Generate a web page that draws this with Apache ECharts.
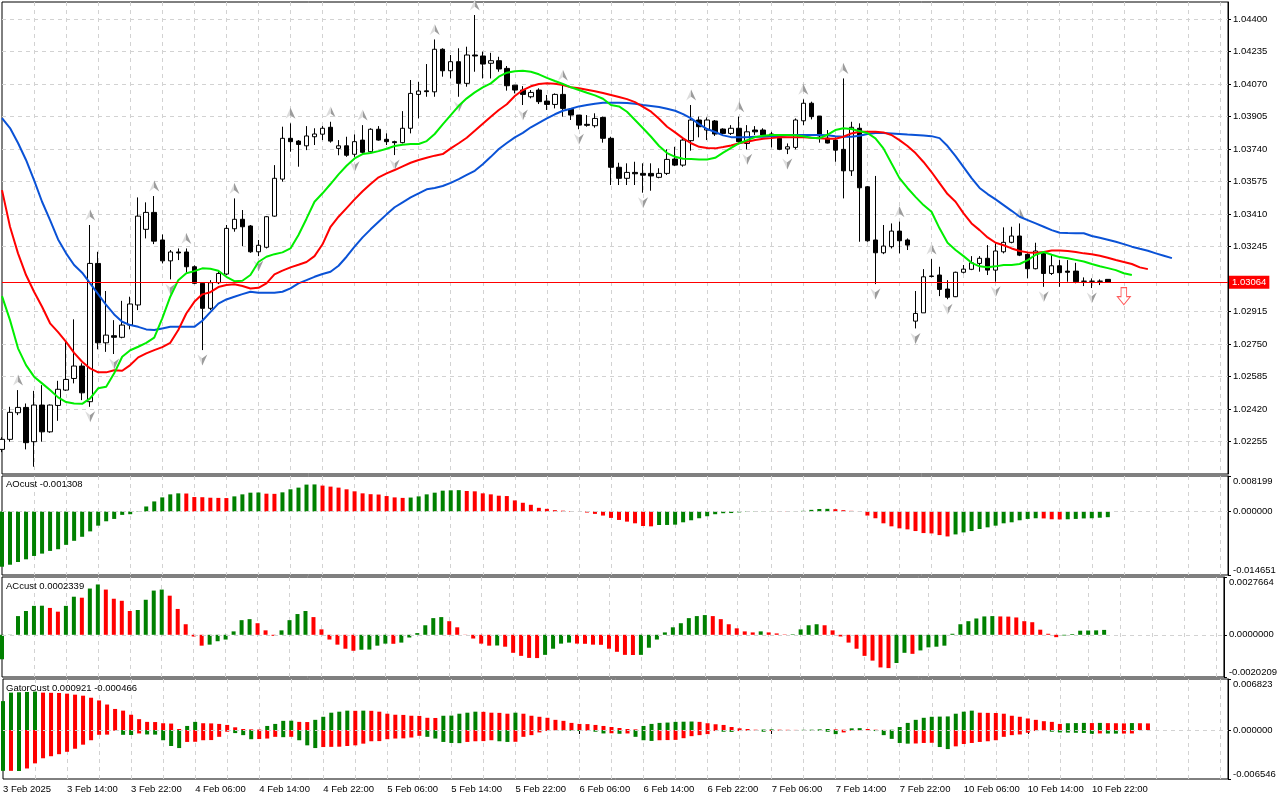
<!DOCTYPE html>
<html lang="en">
<head>
<meta charset="UTF-8">
<title>EURUSD H1 - Alligator / AO / AC / Gator</title>
<script src="https://cdn.jsdelivr.net/npm/echarts@6.0.0/dist/echarts.min.js"></script>
<style>
    html, body { margin: 0; padding: 0; background: #fff; }
    #main { width: 1280px; height: 800px; }
</style>
</head>
<body>
<div id="main"></div>
<script type="text/javascript">
// H1 bars from 3 Feb 06:00 to 11 Feb 00:00 (weekend skipped)
var openPx = [1.02215,1.02266,1.02401,1.02428,1.02254,1.02440,1.02304,1.02438,1.02516,1.02575,
1.02638,1.02457,1.03159,1.02756,1.02792,1.02784,1.02846,1.02948,1.03332,1.03418,
1.03278,1.03172,1.03217,1.03217,1.03142,1.03058,1.02931,1.03061,1.03105,1.03335,
1.03383,1.03349,1.03218,1.03241,1.03399,1.03587,1.03794,1.03780,1.03756,1.03802,
1.03815,1.03850,1.03743,1.03756,1.03713,1.03785,1.03726,1.03840,1.03789,1.03777,
1.03772,1.03845,1.04017,1.04035,1.04030,1.04246,1.04137,1.04183,1.04073,1.04217,
1.04212,1.04175,1.04188,1.04149,1.04064,1.04039,1.04005,1.04039,1.03983,1.03966,
1.04017,1.03941,1.03912,1.03865,1.03858,1.03900,1.03794,1.03647,1.03591,1.03621,
1.03616,1.03616,1.03596,1.03616,1.03689,1.03658,1.03782,1.03887,1.03836,1.03882,
1.03841,1.03819,1.03845,1.03768,1.03836,1.03836,1.03816,1.03794,1.03740,1.03748,
1.03883,1.03972,1.03907,1.03795,1.03785,1.03738,1.03629,1.03845,1.03548,1.03278,
1.03213,1.03244,1.03323,1.03278,1.02866,1.02908,1.03095,1.03100,1.03029,1.02990,
1.03114,1.03129,1.03159,1.03185,1.03125,1.03218,1.03266,1.03298,1.03205,1.03132,
1.03210,1.03108,1.03147,1.03120,1.03120,1.03069,1.03068,1.03069,1.03078];
var highPx = [1.02277,1.02431,1.02516,1.02448,1.02512,1.02541,1.02443,1.02563,1.02761,1.02875,
1.02652,1.03354,1.03218,1.03019,1.02871,1.02969,1.02990,1.03494,1.03469,1.03501,
1.03306,1.03227,1.03235,1.03235,1.03149,1.03059,1.03074,1.03125,1.03354,1.03489,
1.03430,1.03354,1.03278,1.03399,1.03658,1.03853,1.03870,1.03785,1.03856,1.03845,
1.03856,1.03878,1.03785,1.03802,1.03814,1.03861,1.03845,1.03856,1.03819,1.03782,
1.03932,1.04090,1.04081,1.04171,1.04296,1.04251,1.04217,1.04251,1.04259,1.04420,
1.04234,1.04228,1.04208,1.04161,1.04064,1.04059,1.04039,1.04048,1.04014,1.04022,
1.04064,1.03946,1.03912,1.03912,1.03921,1.03904,1.03802,1.03670,1.03667,1.03675,
1.03667,1.03667,1.03642,1.03738,1.03751,1.03795,1.03963,1.03904,1.03900,1.03887,
1.03845,1.03861,1.03904,1.03861,1.03856,1.03845,1.03827,1.03799,1.03768,1.03895,
1.03992,1.03980,1.03907,1.03836,1.03799,1.04098,1.03878,1.03870,1.03552,1.03603,
1.03354,1.03362,1.03371,1.03286,1.03019,1.03130,1.03181,1.03142,1.03074,1.03117,
1.03151,1.03196,1.03196,1.03252,1.03261,1.03342,1.03345,1.03362,1.03210,1.03264,
1.03218,1.03201,1.03176,1.03176,1.03162,1.03088,1.03083,1.03078,1.03078];
var lowPx = [1.02201,1.02254,1.02389,1.02215,1.02127,1.02254,1.02299,1.02360,1.02512,1.02550,
1.02465,1.02431,1.02723,1.02710,1.02699,1.02779,1.02824,1.02922,1.03286,1.03257,
1.03159,1.03078,1.03176,1.03112,1.03054,1.02719,1.02922,1.03054,1.03100,1.03320,
1.03247,1.03213,1.03196,1.03235,1.03396,1.03574,1.03726,1.03650,1.03734,1.03760,
1.03785,1.03772,1.03708,1.03700,1.03700,1.03714,1.03721,1.03782,1.03760,1.03709,
1.03768,1.03819,1.03895,1.04005,1.04005,1.04107,1.04098,1.04005,1.04056,1.04132,
1.04098,1.04098,1.04132,1.04036,1.04022,1.03963,1.03997,1.03968,1.03938,1.03946,
1.03904,1.03887,1.03840,1.03853,1.03848,1.03772,1.03557,1.03557,1.03557,1.03557,
1.03518,1.03528,1.03591,1.03608,1.03653,1.03650,1.03731,1.03799,1.03785,1.03806,
1.03816,1.03811,1.03772,1.03738,1.03811,1.03802,1.03748,1.03734,1.03714,1.03738,
1.03861,1.03890,1.03772,1.03768,1.03675,1.03489,1.03603,1.03269,1.03269,1.03054,
1.03206,1.03235,1.03210,1.03227,1.02829,1.02908,1.03088,1.02993,1.02977,1.02988,
1.03108,1.03125,1.03117,1.03100,1.03066,1.03210,1.03261,1.03196,1.03083,1.03129,
1.03040,1.03100,1.03040,1.03066,1.03058,1.03044,1.03034,1.03049,1.03063];
var closePx = [1.02266,1.02403,1.02428,1.02249,1.02440,1.02304,1.02440,1.02520,1.02570,1.02638,
1.02502,1.03159,1.02756,1.02795,1.02784,1.02846,1.02953,1.03399,1.03418,1.03272,
1.03172,1.03217,1.03212,1.03142,1.03058,1.02931,1.03061,1.03108,1.03337,1.03383,
1.03345,1.03218,1.03251,1.03396,1.03591,1.03794,1.03777,1.03763,1.03806,1.03816,
1.03845,1.03780,1.03756,1.03708,1.03777,1.03723,1.03840,1.03785,1.03777,1.03772,
1.03845,1.04022,1.04034,1.04031,1.04246,1.04137,1.04183,1.04073,1.04217,1.04212,
1.04171,1.04188,1.04146,1.04061,1.04039,1.04017,1.04027,1.03980,1.03966,1.04017,
1.03946,1.03912,1.03861,1.03860,1.03895,1.03794,1.03647,1.03591,1.03621,1.03614,
1.03607,1.03603,1.03616,1.03687,1.03658,1.03785,1.03887,1.03853,1.03887,1.03816,
1.03819,1.03845,1.03777,1.03827,1.03827,1.03811,1.03811,1.03738,1.03751,1.03887,
1.03972,1.03904,1.03806,1.03770,1.03734,1.03629,1.03850,1.03543,1.03274,1.03213,
1.03247,1.03323,1.03274,1.03252,1.02905,1.03091,1.03093,1.03027,1.02987,1.03114,
1.03130,1.03162,1.03185,1.03125,1.03222,1.03266,1.03298,1.03201,1.03132,1.03222,
1.03108,1.03147,1.03112,1.03114,1.03066,1.03068,1.03069,1.03068,1.03064];

// alligator lines as drawn on the chart (jaw +8, teeth +5, lips +3 bars ahead)
var jaw = [1.03897,1.03846,1.03770,1.03684,1.03582,1.03472,1.03379,1.03281,1.03210,1.03151,
1.03112,1.03058,1.03003,1.02948,1.02900,1.02863,1.02846,1.02837,1.02824,1.02821,
1.02829,1.02837,1.02837,1.02837,1.02837,1.02868,1.02912,1.02955,1.02976,1.02990,
1.03003,1.03015,1.03010,1.03010,1.03010,1.03015,1.03032,1.03058,1.03074,1.03091,
1.03105,1.03117,1.03147,1.03193,1.03244,1.03291,1.03332,1.03370,1.03408,1.03444,
1.03469,1.03494,1.03515,1.03535,1.03542,1.03552,1.03568,1.03587,1.03608,1.03629,
1.03662,1.03700,1.03740,1.03770,1.03799,1.03822,1.03850,1.03873,1.03895,1.03916,
1.03934,1.03944,1.03956,1.03963,1.03970,1.03975,1.03975,1.03975,1.03973,1.03970,
1.03963,1.03958,1.03953,1.03944,1.03934,1.03917,1.03895,1.03866,1.03841,1.03826,
1.03809,1.03800,1.03799,1.03800,1.03802,1.03802,1.03804,1.03805,1.03809,1.03811,
1.03811,1.03811,1.03811,1.03809,1.03805,1.03802,1.03802,1.03807,1.03816,1.03821,
1.03821,1.03819,1.03816,1.03813,1.03811,1.03808,1.03805,1.03795,1.03755,1.03704,
1.03648,1.03592,1.03542,1.03511,1.03484,1.03455,1.03426,1.03396,1.03379,1.03362,
1.03345,1.03328,1.03315,1.03313,1.03312,1.03312,1.03298,1.03289,1.03279,1.03269,
1.03257,1.03244,1.03233,1.03223,1.03210,1.03198,1.03186];
var teeth = [1.03531,1.03345,1.03210,1.03100,1.03015,1.02939,1.02855,1.02810,1.02761,1.02705,
1.02660,1.02626,1.02606,1.02606,1.02617,1.02614,1.02643,1.02682,1.02702,1.02719,
1.02734,1.02756,1.02821,1.02905,1.02964,1.03002,1.03013,1.03039,1.03049,1.03053,
1.03044,1.03032,1.03035,1.03058,1.03103,1.03122,1.03139,1.03152,1.03166,1.03196,
1.03256,1.03345,1.03396,1.03440,1.03484,1.03525,1.03562,1.03596,1.03616,1.03633,
1.03652,1.03670,1.03684,1.03695,1.03706,1.03714,1.03743,1.03769,1.03797,1.03832,
1.03868,1.03904,1.03938,1.03967,1.04009,1.04039,1.04058,1.04070,1.04073,1.04071,
1.04065,1.04053,1.04048,1.04041,1.04033,1.04024,1.04014,1.04004,1.03993,1.03978,
1.03954,1.03929,1.03893,1.03853,1.03824,1.03794,1.03769,1.03751,1.03745,1.03743,
1.03750,1.03758,1.03769,1.03777,1.03785,1.03792,1.03795,1.03799,1.03799,1.03799,
1.03799,1.03797,1.03794,1.03792,1.03792,1.03802,1.03819,1.03827,1.03827,1.03827,
1.03824,1.03811,1.03785,1.03755,1.03719,1.03674,1.03623,1.03567,1.03511,1.03472,
1.03413,1.03362,1.03328,1.03291,1.03264,1.03251,1.03235,1.03222,1.03215,1.03213,
1.03217,1.03225,1.03225,1.03222,1.03217,1.03210,1.03205,1.03198,1.03188,1.03176,
1.03166,1.03156,1.03139,1.03130];
var lips = [1.02993,1.02871,1.02728,1.02643,1.02584,1.02550,1.02516,1.02479,1.02455,1.02448,
1.02446,1.02474,1.02525,1.02533,1.02601,1.02685,1.02718,1.02736,1.02756,1.02782,
1.02880,1.02990,1.03074,1.03109,1.03120,1.03134,1.03132,1.03122,1.03091,1.03069,
1.03071,1.03100,1.03166,1.03193,1.03206,1.03215,1.03235,1.03303,1.03386,1.03472,
1.03515,1.03562,1.03611,1.03655,1.03692,1.03714,1.03719,1.03729,1.03741,1.03755,
1.03761,1.03765,1.03765,1.03780,1.03816,1.03865,1.03912,1.03959,1.03997,1.04027,
1.04053,1.04073,1.04107,1.04127,1.04134,1.04137,1.04132,1.04119,1.04101,1.04085,
1.04070,1.04053,1.04039,1.04025,1.04012,1.03995,1.03963,1.03956,1.03929,1.03887,
1.03845,1.03802,1.03755,1.03719,1.03700,1.03690,1.03689,1.03687,1.03687,1.03695,
1.03721,1.03746,1.03769,1.03785,1.03800,1.03807,1.03811,1.03811,1.03811,1.03809,
1.03804,1.03797,1.03794,1.03812,1.03836,1.03845,1.03841,1.03831,1.03821,1.03794,
1.03743,1.03667,1.03592,1.03542,1.03497,1.03455,1.03421,1.03337,1.03264,1.03227,
1.03196,1.03162,1.03144,1.03139,1.03144,1.03151,1.03151,1.03156,1.03176,1.03203,
1.03217,1.03203,1.03191,1.03185,1.03177,1.03169,1.03156,1.03145,1.03135,1.03125,
1.03109,1.03100];

// bars carrying a fractal
var fractalUp = [2, 11, 19, 23, 29, 36, 41, 45, 54, 59, 70, 86, 92, 100, 105, 112, 116, 127];
var fractalDown = [11, 14, 21, 25, 32, 44, 49, 57, 65, 72, 80, 93, 98, 109, 114, 118, 124, 130, 136];
// sell arrow drawn ahead of the last bar
var signalBar = [140];
var signalPrice = [1.02993];

var ao = [-0.012743,-0.012277,-0.011655,-0.011033,-0.010256,-0.009713,-0.009091,-0.008702,-0.007692,-0.006760,
-0.005828,-0.004584,-0.003263,-0.002253,-0.001709,-0.000777,-0.000622,0.000080,0.001166,0.002331,
0.003263,0.003963,0.004196,0.004157,0.003341,0.003302,0.003186,0.003147,0.003108,0.003497,
0.003963,0.004351,0.004390,0.004118,0.004080,0.004429,0.005128,0.005517,0.006216,0.006255,
0.005983,0.005750,0.005517,0.005128,0.004662,0.004196,0.004002,0.003924,0.003574,0.003263,
0.003147,0.003225,0.003497,0.003963,0.004351,0.004817,0.004895,0.004934,0.004740,0.004662,
0.004196,0.003963,0.003652,0.003574,0.002564,0.002020,0.001554,0.000855,0.000622,0.000311,
0.000194,0.000117,0.000010,-0.000233,-0.000544,-0.000932,-0.001476,-0.001943,-0.002331,-0.002720,
-0.003341,-0.003419,-0.003108,-0.003100,-0.003030,-0.002486,-0.002020,-0.001554,-0.001088,-0.000622,
-0.000389,-0.000350,-0.000194,-0.000117,-0.000078,-0.000054,-0.000039,-0.000054,-0.000070,-0.000039,
0.000155,0.000389,0.000583,0.000622,0.000544,0.000311,0.000155,-0.000039,-0.000932,-0.001554,
-0.002720,-0.003419,-0.003885,-0.004118,-0.004507,-0.004973,-0.005051,-0.005439,-0.005750,-0.005284,
-0.004817,-0.004507,-0.004040,-0.003652,-0.003263,-0.002720,-0.002486,-0.002020,-0.001709,-0.001554,
-0.001593,-0.001787,-0.001826,-0.001787,-0.001709,-0.001593,-0.001554,-0.001437,-0.001308];

var ac = [-0.001172,0.000008,0.000895,0.001140,0.001384,0.001392,0.001286,0.001107,0.001384,0.001823,
0.001775,0.002214,0.002409,0.002165,0.001726,0.001628,0.001140,0.001188,0.001677,0.002116,
0.002165,0.001872,0.001237,0.000505,-0.000081,-0.000521,-0.000472,-0.000309,-0.000228,0.000163,
0.000700,0.000749,0.000554,0.000212,-0.000049,0.000212,0.000700,0.000993,0.001140,0.000847,
0.000260,-0.000228,-0.000472,-0.000667,-0.000765,-0.000716,-0.000708,-0.000521,-0.000423,-0.000431,
-0.000374,-0.000130,0.000081,0.000456,0.000798,0.000847,0.000651,0.000358,-0.000008,-0.000179,
-0.000423,-0.000521,-0.000513,-0.000570,-0.000863,-0.001009,-0.001107,-0.001115,-0.000961,-0.000667,
-0.000423,-0.000374,-0.000423,-0.000431,-0.000472,-0.000480,-0.000667,-0.000814,-0.000961,-0.000969,
-0.000961,-0.000619,-0.000228,0.000114,0.000358,0.000554,0.000798,0.000895,0.000944,0.000895,
0.000749,0.000505,0.000309,0.000163,0.000114,0.000163,0.000114,0.000065,0.000016,0.000024,
0.000260,0.000456,0.000505,0.000456,0.000212,-0.000081,-0.000374,-0.000667,-0.001009,-0.001237,
-0.001563,-0.001595,-0.001351,-0.000863,-0.000912,-0.000749,-0.000602,-0.000570,-0.000521,0.000049,
0.000505,0.000651,0.000781,0.000879,0.000895,0.000879,0.000871,0.000830,0.000651,0.000602,
0.000244,0.000049,-0.000114,-0.000033,0.000033,0.000195,0.000204,0.000212,0.0002339];

var gatorUp = [0.003865,0.005002,0.005047,0.005093,0.005138,0.005002,0.004979,0.004956,0.004865,0.004729,
0.004592,0.004320,0.003956,0.003410,0.002819,0.002592,0.002046,0.001455,0.001091,0.001069,
0.000909,0.000864,0.000136,0.000546,0.001091,0.000909,0.000887,0.000818,0.000682,0.000364,
0.000136,0.000091,0.000068,0.000546,0.000818,0.001228,0.001250,0.001091,0.001069,0.001364,
0.001773,0.002319,0.002455,0.002592,0.002569,0.002592,0.002569,0.002455,0.002183,0.002046,
0.002023,0.001910,0.001887,0.001637,0.001614,0.001910,0.001932,0.002183,0.002319,0.002455,
0.002433,0.002319,0.002296,0.002183,0.002319,0.002183,0.001910,0.001773,0.001637,0.001364,
0.001228,0.000955,0.000818,0.000796,0.000682,0.000546,0.000409,0.000273,0.000136,0.000091,
0.000546,0.000818,0.000955,0.001000,0.001091,0.001114,0.001137,0.001091,0.000909,0.000773,
0.000682,0.000409,0.000227,0.000136,0.000045,0.000068,0.000091,0.000045,0.000032,0.000018,
0.000032,0.000045,0.000091,0.000136,0.000091,0.000045,0.000227,0.000250,0.000136,0.000045,
0.000023,0.000045,0.000409,0.000955,0.001364,0.001637,0.001773,0.001796,0.001819,0.002183,
0.002455,0.002592,0.002319,0.002296,0.002274,0.002183,0.001910,0.001773,0.001546,0.001364,
0.001182,0.001091,0.000818,0.000909,0.000932,0.000955,0.000932,0.000955,0.000921,0.000909,
0.000887,0.000932,0.000909,0.000887];
var gatorDown = [-0.005456,-0.005456,-0.005479,-0.005138,-0.004456,-0.003774,-0.003501,-0.003228,-0.002910,-0.002501,
-0.001955,-0.001364,-0.000637,-0.000614,-0.000091,-0.000637,-0.000659,-0.000455,-0.000591,-0.000614,
-0.001364,-0.002137,-0.002410,-0.001591,-0.001569,-0.001364,-0.001341,-0.000909,-0.000227,-0.000409,
-0.000682,-0.001228,-0.001205,-0.001137,-0.000909,-0.000955,-0.000909,-0.001364,-0.002046,-0.002410,
-0.002274,-0.002251,-0.002228,-0.002137,-0.002046,-0.001819,-0.001500,-0.001478,-0.001228,-0.001137,
-0.001114,-0.001000,-0.000773,-0.000909,-0.001137,-0.001591,-0.001728,-0.001751,-0.001591,-0.001500,
-0.001478,-0.001364,-0.001500,-0.001591,-0.001569,-0.000909,-0.000682,-0.000318,-0.000136,-0.000045,
-0.000068,-0.000091,-0.000136,-0.000091,-0.000227,-0.000455,-0.000432,-0.000500,-0.000455,-0.000909,
-0.001364,-0.001455,-0.001364,-0.001341,-0.001319,-0.001091,-0.000818,-0.000682,-0.000546,-0.000136,
-0.000227,-0.000250,-0.000136,-0.000091,-0.000045,-0.000227,-0.000136,-0.000068,-0.000045,-0.000023,
-0.000045,-0.000068,-0.000091,-0.000227,-0.000546,-0.000318,-0.000091,-0.000045,-0.000023,-0.000136,
-0.000682,-0.001182,-0.001728,-0.001819,-0.001796,-0.001728,-0.001705,-0.002274,-0.002546,-0.002183,
-0.001864,-0.001728,-0.001591,-0.001500,-0.001364,-0.000909,-0.000682,-0.000591,-0.000364,-0.000136,
-0.000045,-0.000227,-0.000318,-0.000341,-0.000364,-0.000386,-0.000500,-0.000455,-0.000466,-0.000480,
-0.000470,-0.000460];

// axis labels
var timeLabels = ['3 Feb 2025','3 Feb 14:00','3 Feb 22:00','4 Feb 06:00','4 Feb 14:00','4 Feb 22:00',
    '5 Feb 06:00','5 Feb 14:00','5 Feb 22:00','6 Feb 06:00','6 Feb 14:00','6 Feb 22:00',
    '7 Feb 06:00','7 Feb 14:00','7 Feb 22:00','10 Feb 06:00','10 Feb 14:00','10 Feb 22:00'];
var priceTicks = [1.02255,1.02420,1.02585,1.02750,1.02915,1.03245,1.03410,1.03575,1.03740,1.03905,1.04070,1.04235,1.04400];
var aoScale = [-0.014651, 0, 0.008199];
var acScale = [-0.0020209, 0, 0.0027664];
var gatorScale = [-0.006546, 0, 0.006823];

// 154 hourly slots: 139 bars plus room on the right
var categories = [];
for (var i = 0; i < 154; i++) {
    var h = 6 + i + (i >= 114 ? 48 : 0);
    var hh = h % 24;
    categories.push((3 + Math.floor(h / 24)) + ' Feb ' + (hh < 10 ? '0' : '') + hh + ':00');
}

var FONT = '"Liberation Sans", Arial, sans-serif';
var GREEN = '#008000', RED = '#ff0000';
var last = closePx.length - 1;

function near(v, list) {
    for (var k = 0; k < list.length; k++) {
        if (Math.abs(v - list[k]) < 1e-9) return true;
    }
    return false;
}

// green when the bar grew against the previous one
function colored(arr, useAbs) {
    return arr.map(function (v, k) {
        var cur = useAbs ? Math.abs(v) : v;
        var prev = k > 0 ? (useAbs ? Math.abs(arr[k - 1]) : arr[k - 1]) : -Infinity;
        return { value: v, itemStyle: { color: cur > prev ? GREEN : RED } };
    });
}

var dash = { color: '#d2d2d2', type: [4, 4], width: 1 };

function xAxisFor(gi, withLabels) {
    return {
        type: 'category', gridIndex: gi, data: categories, boundaryGap: false,
        axisLine: { show: false },
        axisTick: {
            show: withLabels, length: 4, lineStyle: { color: '#000' },
            interval: function (k) { return k % 8 === 0 && k / 8 < timeLabels.length; }
        },
        axisLabel: {
            show: withLabels, align: 'left', margin: 5, color: '#000', fontFamily: FONT, fontSize: 9.5,
            interval: function (k) { return k % 8 === 0 && k / 8 < timeLabels.length; },
            formatter: function (v, k) { return timeLabels[k / 8] || ''; }
        },
        splitLine: { show: true, lineStyle: dash, interval: function (k) { return k > 0 && k % 4 === 0; } }
    };
}

function subY(gi, scale, dec) {
    return {
        type: 'value', gridIndex: gi, position: 'right',
        min: scale[0], max: scale[2], interval: -scale[0],
        axisLine: { show: true, lineStyle: { color: '#000' } },
        axisTick: { show: true, length: 3, customValues: scale, lineStyle: { color: '#000' } },
        axisLabel: {
            customValues: scale, margin: 5, color: '#000', fontFamily: FONT, fontSize: 9.5,
            verticalAlignMinLabel: 'bottom', verticalAlignMaxLabel: 'top',
            formatter: function (v) {
                if (!near(v, scale)) return '';
                return (Math.abs(v) < 1e-12 ? 0 : v).toFixed(dec);
            }
        },
        splitLine: { show: false }
    };
}

var zeroLine = {
    silent: true, symbol: 'none', label: { show: false }, precision: 7,
    lineStyle: dash, data: [{ yAxis: 0 }]
};

var upArrow = 'path://M6,0 L12,12 L6,8 L0,12 Z';
var downArrow = 'path://M0,0 L6,4 L12,0 L6,12 Z';
var arrowFill = {
    type: 'linear', x: 0, y: 0, x2: 1, y2: 0,
    colorStops: [{ offset: 0, color: '#dcdcdc' }, { offset: 0.5, color: '#dcdcdc' },
                 { offset: 0.5, color: '#9c9c9c' }, { offset: 1, color: '#9c9c9c' }]
};

var chart = echarts.init(document.getElementById('main'));
chart.setOption({
    animation: false,
    backgroundColor: '#ffffff',
    title: [
        { text: 'AOcust ' + ao[last].toFixed(6), left: 6, top: 479, padding: 0,
          textStyle: { fontSize: 9.5, fontWeight: 'normal', color: '#000', fontFamily: FONT } },
        { text: 'ACcust ' + ac[last].toFixed(7), left: 6, top: 581, padding: 0,
          textStyle: { fontSize: 9.5, fontWeight: 'normal', color: '#000', fontFamily: FONT } },
        { text: 'GatorCust ' + gatorUp[last].toFixed(6) + ' ' + gatorDown[last].toFixed(6), left: 6, top: 683, padding: 0,
          textStyle: { fontSize: 9.5, fontWeight: 'normal', color: '#000', fontFamily: FONT } }
    ],
    grid: [
        { left: 2, top: 2, width: 1226, height: 472, show: true, borderColor: '#000', borderWidth: 1 },
        { left: 2, top: 476, width: 1226, height: 99, show: true, borderColor: '#000', borderWidth: 1 },
        { left: 2, top: 577, width: 1226, height: 100, show: true, borderColor: '#000', borderWidth: 1 },
        { left: 2, top: 679, width: 1226, height: 100, show: true, borderColor: '#000', borderWidth: 1 }
    ],
    xAxis: [xAxisFor(0, false), xAxisFor(1, false), xAxisFor(2, false), xAxisFor(3, true)],
    yAxis: [
        {
            type: 'value', gridIndex: 0, position: 'right',
            min: 1.02090, max: 1.04486, interval: 0.00165,
            axisLine: { show: true, lineStyle: { color: '#000' } },
            axisTick: { show: true, length: 3, customValues: priceTicks, lineStyle: { color: '#000' } },
            axisLabel: {
                customValues: priceTicks, margin: 5, color: '#000', fontFamily: FONT, fontSize: 9.5,
                formatter: function (v) { return near(v, priceTicks) ? v.toFixed(5) : ''; }
            },
            splitLine: { show: true, lineStyle: dash }
        },
        subY(1, aoScale, 6),
        subY(2, acScale, 7),
        subY(3, gatorScale, 6)
    ],
    series: [
        {
            name: 'price', type: 'candlestick', xAxisIndex: 0, yAxisIndex: 0, barWidth: 5,
            data: openPx.map(function (o, k) { return [o, closePx[k], lowPx[k], highPx[k]]; }),
            itemStyle: { color: '#ffffff', color0: '#000000', borderColor: '#000000', borderColor0: '#000000', borderWidth: 1 },
            markLine: {
                silent: true, symbol: 'none', precision: 5,
                lineStyle: { color: '#ff0000', width: 1, type: 'solid' },
                label: {
                    show: true, position: 'end', distance: 1, formatter: closePx[last].toFixed(5),
                    color: '#ffffff', backgroundColor: '#ff0000', padding: [2, 3, 1, 3],
                    fontFamily: FONT, fontSize: 9.5
                },
                data: [{ yAxis: closePx[last] }]
            }
        },
        { name: 'jaw', type: 'line', xAxisIndex: 0, yAxisIndex: 0, data: jaw, symbol: 'none',
          lineStyle: { color: '#0a52d6', width: 2 } },
        { name: 'teeth', type: 'line', xAxisIndex: 0, yAxisIndex: 0, data: teeth, symbol: 'none',
          lineStyle: { color: '#ff0000', width: 2 } },
        { name: 'lips', type: 'line', xAxisIndex: 0, yAxisIndex: 0, data: lips, symbol: 'none',
          lineStyle: { color: '#00ee00', width: 2 } },
        { name: 'fractal up', type: 'scatter', xAxisIndex: 0, yAxisIndex: 0,
          data: fractalUp.map(function (k) { return [k, highPx[k]]; }),
          symbol: upArrow, symbolSize: [10, 11], symbolOffset: [0, -10],
          itemStyle: { color: arrowFill, opacity: 1 } },
        { name: 'fractal down', type: 'scatter', xAxisIndex: 0, yAxisIndex: 0,
          data: fractalDown.map(function (k) { return [k, lowPx[k]]; }),
          symbol: downArrow, symbolSize: [10, 11], symbolOffset: [0, 10],
          itemStyle: { color: arrowFill, opacity: 1 } },
        { name: 'signal', type: 'scatter', xAxisIndex: 0, yAxisIndex: 0,
          data: signalBar.map(function (k, n) { return [k, signalPrice[n]]; }),
          symbol: 'path://M4,0 L10,0 L10,9 L14,9 L7,17 L0,9 L4,9 Z', symbolSize: [13, 17],
          itemStyle: { color: '#ffffff', borderColor: '#ff3030', borderWidth: 1 } },
        { name: 'AO', type: 'bar', xAxisIndex: 1, yAxisIndex: 1, barWidth: 4,
          data: colored(ao, false), markLine: zeroLine },
        { name: 'AC', type: 'bar', xAxisIndex: 2, yAxisIndex: 2, barWidth: 4,
          data: colored(ac, false), markLine: zeroLine },
        { name: 'Gator up', type: 'bar', xAxisIndex: 3, yAxisIndex: 3, barWidth: 4, barGap: '-100%',
          data: colored(gatorUp, true), markLine: zeroLine },
        { name: 'Gator down', type: 'bar', xAxisIndex: 3, yAxisIndex: 3, barWidth: 4, barGap: '-100%',
          data: colored(gatorDown, true) }
    ]
});
</script>
</body>
</html>
